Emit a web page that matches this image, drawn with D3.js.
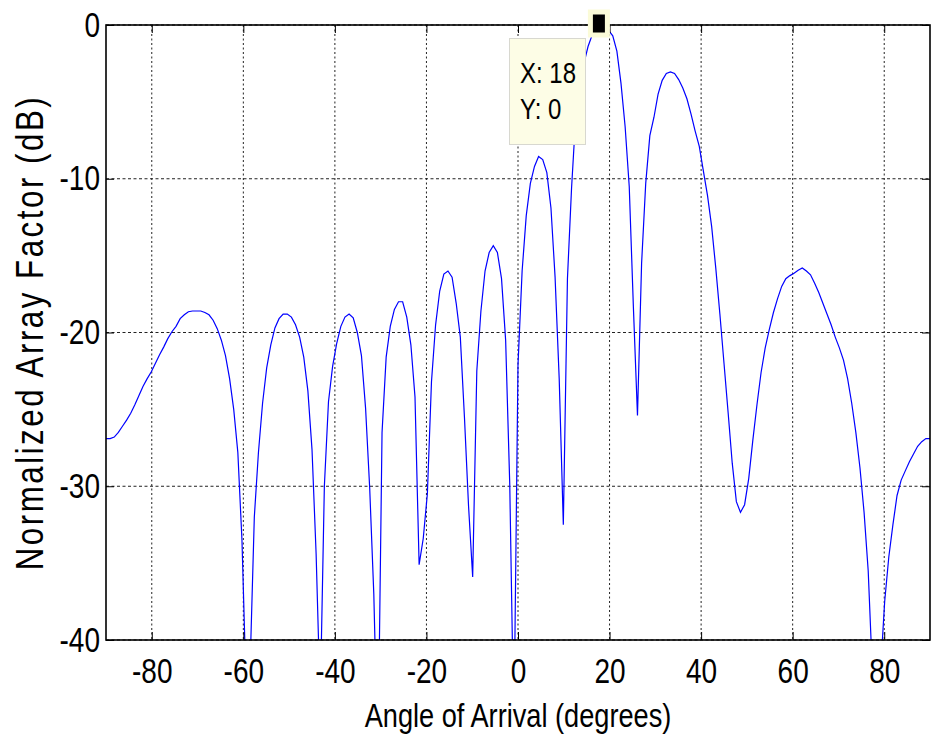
<!DOCTYPE html>
<html lang="en">
    <head>
        <meta charset="utf-8" />
        <title>Normalized Array Factor</title>
        <script src="https://cdnjs.cloudflare.com/ajax/libs/d3/7.7.0/d3.min.js"></script>
        <style>
            body { margin: 0; background: #fff; }
            text { font-family: "Liberation Sans", Arial, sans-serif; fill: #000; }
        </style>
    </head>
    <body>
        <div class="graph"></div>
        <script>
// angle samples (degrees) and the pattern (dB)
const angles = [
    -90, -89.1, -88.2, -87.3, -86.4, -85.5, -84.6, -83.7, -82.8, -81.9,
    -81, -80.1, -79.2, -78.3, -77.4, -76.5, -75.6, -74.7, -73.8, -72.9,
    -72, -71.1, -70.2, -69.3, -68.4, -67.5, -66.6, -65.7, -64.8, -63.9,
    -63, -62.1, -61.2, -60.3, -59.4, -58.5, -57.6, -56.7, -55.8, -54.9,
    -54, -53.1, -52.2, -51.3, -50.4, -49.5, -48.6, -47.7, -46.8, -45.9,
    -45, -44.1, -43.2, -42.3, -41.4, -40.5, -39.6, -38.7, -37.8, -36.9,
    -36, -35.1, -34.2, -33.3, -32.4, -31.5, -30.6, -29.7, -28.8, -27.9,
    -27, -26.1, -25.2, -24.3, -23.4, -22.5, -21.6, -20.7, -19.8, -18.9,
    -18, -17.1, -16.2, -15.3, -14.4, -13.5, -12.6, -11.7, -10.8, -9.9,
    -9, -8.1, -7.2, -6.3, -5.4, -4.5, -3.6, -2.7, -1.8, -0.9,
    0, 0.9, 1.8, 2.7, 3.6, 4.5, 5.4, 6.3, 7.2, 8.1,
    9, 9.9, 10.8, 11.7, 12.6, 13.5, 14.4, 15.3, 16.2, 17.1,
    18, 18.9, 19.8, 20.7, 21.6, 22.5, 23.4, 24.3, 25.2, 26.1,
    27, 27.9, 28.8, 29.7, 30.6, 31.5, 32.4, 33.3, 34.2, 35.1,
    36, 36.9, 37.8, 38.7, 39.6, 40.5, 41.4, 42.3, 43.2, 44.1,
    45, 45.9, 46.8, 47.7, 48.6, 49.5, 50.4, 51.3, 52.2, 53.1,
    54, 54.9, 55.8, 56.7, 57.6, 58.5, 59.4, 60.3, 61.2, 62.1,
    63, 63.9, 64.8, 65.7, 66.6, 67.5, 68.4, 69.3, 70.2, 71.1,
    72, 72.9, 73.8, 74.7, 75.6, 76.5, 77.4, 78.3, 79.2, 80.1,
    81, 81.9, 82.8, 83.7, 84.6, 85.5, 86.4, 87.3, 88.2, 89.1,
    90
];
const afDb = [
    -26.9, -26.9, -26.8, -26.5, -26.1, -25.7, -25.25, -24.7, -24.1, -23.5,
    -23.0, -22.55, -22.0, -21.45, -20.95, -20.4, -19.95, -19.6, -19.1, -18.85,
    -18.65, -18.6, -18.6, -18.6, -18.7, -18.85, -19.2, -19.75, -20.5, -21.5,
    -23.0, -25.0, -27.8, -33.5, -43, -41.5, -32.0, -27.8, -24.6, -22.3,
    -20.8, -19.7, -19.1, -18.8, -18.8, -19.0, -19.5, -20.3, -21.6, -23.8,
    -27.6, -34.4, -44, -30, -24.5, -22.2, -20.7, -19.6, -19.0, -18.8,
    -19.05, -20.0, -21.5, -24.9, -30.1, -37, -48, -26.5, -21.6, -19.6,
    -18.5, -18.0, -18.0, -19.0, -20.8, -24.2, -35.1, -33.4, -30.5, -23.2,
    -19.5, -17.3, -16.2, -16.0, -16.4, -18.1, -20.3, -25.5, -31.3, -35.9,
    -22.5, -18.6, -16.0, -14.8, -14.35, -14.8, -16.5, -20.5, -29.9, -46,
    -22.1, -16.0, -12.4, -10.3, -9.2, -8.55, -8.75, -9.6, -11.9, -16.4,
    -23.0, -32.5, -16.5, -10.6, -6.0, -3.9, -2.5, -1.4, -0.65, -0.15,
    0, -0.1, -0.35, -0.7, -1.7, -3.8, -6.6, -10.5, -18.3, -25.4,
    -15.5, -10.3, -7.2, -6.0, -4.5, -3.6, -3.15, -3.05, -3.15, -3.55,
    -4.1, -4.8, -5.8, -6.9, -7.9, -9.5, -11.1, -13.1, -15.8, -18.8,
    -22.0, -25.2, -28.5, -31.0, -31.7, -31.2, -29.5, -27.0, -24.7, -22.6,
    -21.0, -19.8, -18.7, -17.8, -17.0, -16.5, -16.3, -16.15, -15.95, -15.8,
    -16.0, -16.25, -16.8, -17.4, -18.1, -18.8, -19.5, -20.3, -21.0, -21.8,
    -23.0, -24.6, -26.5, -28.8, -31.7, -35.5, -42, -55, -42, -37.5,
    -34.6, -32.5, -30.6, -29.6, -29.0, -28.4, -27.9, -27.4, -27.1, -26.9,
    -26.9
];
const xTicks = [-80, -60, -40, -20, 0, 20, 40, 60, 80];
const yTicks = [0, -10, -20, -30, -40];
const tipX = 18;
const tipY = 0;

const w = 933;
const h = 740;
const margin = {left: 106, right: 3, top: 25, bottom: 100};
const squeeze = 0.8; // matlab text renders narrow

const xScale = d3.scaleLinear()
                 .domain([-90, 90])
                 .range([margin.left, w - margin.right]);
const yScale = d3.scaleLinear()
                 .domain([-40, 0])
                 .range([h - margin.bottom, margin.top]);

const svg = d3.select(".graph")
              .append("svg")
              .attr("width", w)
              .attr("height", h);

svg.append("clipPath")
   .attr("id", "plotclip")
   .append("rect")
   .attr("x", xScale(-90))
   .attr("y", yScale(0))
   .attr("width", xScale(90) - xScale(-90))
   .attr("height", yScale(-40) - yScale(0));

//grid
svg.append("g")
   .selectAll("line")
   .data(xTicks)
   .enter()
   .append("line")
   .attr("x1", d => xScale(d))
   .attr("x2", d => xScale(d))
   .attr("y1", yScale(0))
   .attr("y2", yScale(-40))
   .attr("stroke", "#222")
   .attr("stroke-dasharray", "2,2.5");
svg.append("g")
   .selectAll("line")
   .data(yTicks)
   .enter()
   .append("line")
   .attr("x1", xScale(-90))
   .attr("x2", xScale(90))
   .attr("y1", d => yScale(d))
   .attr("y2", d => yScale(d))
   .attr("stroke", "#222")
   .attr("stroke-dasharray", "3,2.5");

//curve
const line = d3.line()
               .x((d, i) => xScale(angles[i]))
               .y(d => yScale(d));
svg.append("path")
   .datum(afDb)
   .attr("clip-path", "url(#plotclip)")
   .attr("d", line)
   .attr("fill", "none")
   .attr("stroke", "#0000ff")
   .attr("stroke-width", 1.2);

//axes, ticks pointing inward like matlab
const xAxis = d3.axisBottom(xScale).tickValues(xTicks).tickSize(-8).tickPadding(18).tickFormat(d => d);
svg.append("g")
   .attr("transform", "translate(0," + yScale(-40) + ")")
   .call(xAxis)
   .call(g => g.select(".domain").remove())
   .call(g => g.selectAll("text")
               .attr("font-size", 35)
               .attr("font-family", null)
               .attr("transform", "scale(" + squeeze + ",1)"));

const yAxis = d3.axisLeft(yScale).tickValues(yTicks).tickSize(-8).tickPadding(6).tickFormat(d => d);
svg.append("g")
   .attr("transform", "translate(" + xScale(-90) + ",0)")
   .call(yAxis)
   .call(g => g.select(".domain").remove())
   .call(g => g.selectAll("text")
               .attr("font-size", 35)
               .attr("x", -6 / squeeze)
               .attr("transform", "scale(" + squeeze + ",1)"));

svg.append("g")
   .attr("transform", "translate(0," + yScale(0) + ")")
   .call(d3.axisTop(xScale).tickValues(xTicks).tickSize(-8).tickFormat(""))
   .call(g => g.select(".domain").remove());
svg.append("g")
   .attr("transform", "translate(" + xScale(90) + ",0)")
   .call(d3.axisRight(yScale).tickValues(yTicks).tickSize(-8).tickFormat(""))
   .call(g => g.select(".domain").remove());

svg.selectAll("g.tick line").attr("stroke", "#000");
svg.selectAll("g").attr("font-family", null);

svg.append("rect")
   .attr("x", xScale(-90))
   .attr("y", yScale(0))
   .attr("width", xScale(90) - xScale(-90))
   .attr("height", yScale(-40) - yScale(0))
   .attr("fill", "none")
   .attr("stroke", "#000")
   .attr("stroke-width", 1.6);

//labels
svg.append("text")
   .attr("transform", "translate(" + (xScale(-90) + xScale(90)) / 2 + ",727) scale(" + squeeze + ",1)")
   .attr("text-anchor", "middle")
   .attr("font-size", 34)
   .text("Angle of Arrival (degrees)");

svg.append("text")
   .attr("transform", "translate(43," + ((yScale(0) + yScale(-40)) / 2) + ") rotate(-90) scale(" + squeeze + ",1)")
   .attr("text-anchor", "middle")
   .attr("font-size", 39)
   .attr("letter-spacing", 3.2)
   .text("Normalized Array Factor (dB)");

//data tip
const tip = svg.append("g");
tip.append("rect")
   .attr("x", 509.5)
   .attr("y", 38.5)
   .attr("width", 76)
   .attr("height", 106)
   .attr("fill", "#fdfde6")
   .attr("stroke", "#d8d8d0");
tip.append("text")
   .attr("transform", "translate(520,83) scale(" + squeeze + ",1)")
   .attr("font-size", 30)
   .text("X: " + tipX);
tip.append("text")
   .attr("transform", "translate(520,119) scale(" + squeeze + ",1)")
   .attr("font-size", 30)
   .text("Y: " + tipY);
tip.append("rect")
   .attr("x", xScale(tipX) - 10)
   .attr("y", yScale(tipY) - 13)
   .attr("width", 17)
   .attr("height", 23)
   .attr("fill", "#000")
   .attr("stroke", "#fbfbd8")
   .attr("stroke-width", 5);
        </script>
    </body>
</html>
